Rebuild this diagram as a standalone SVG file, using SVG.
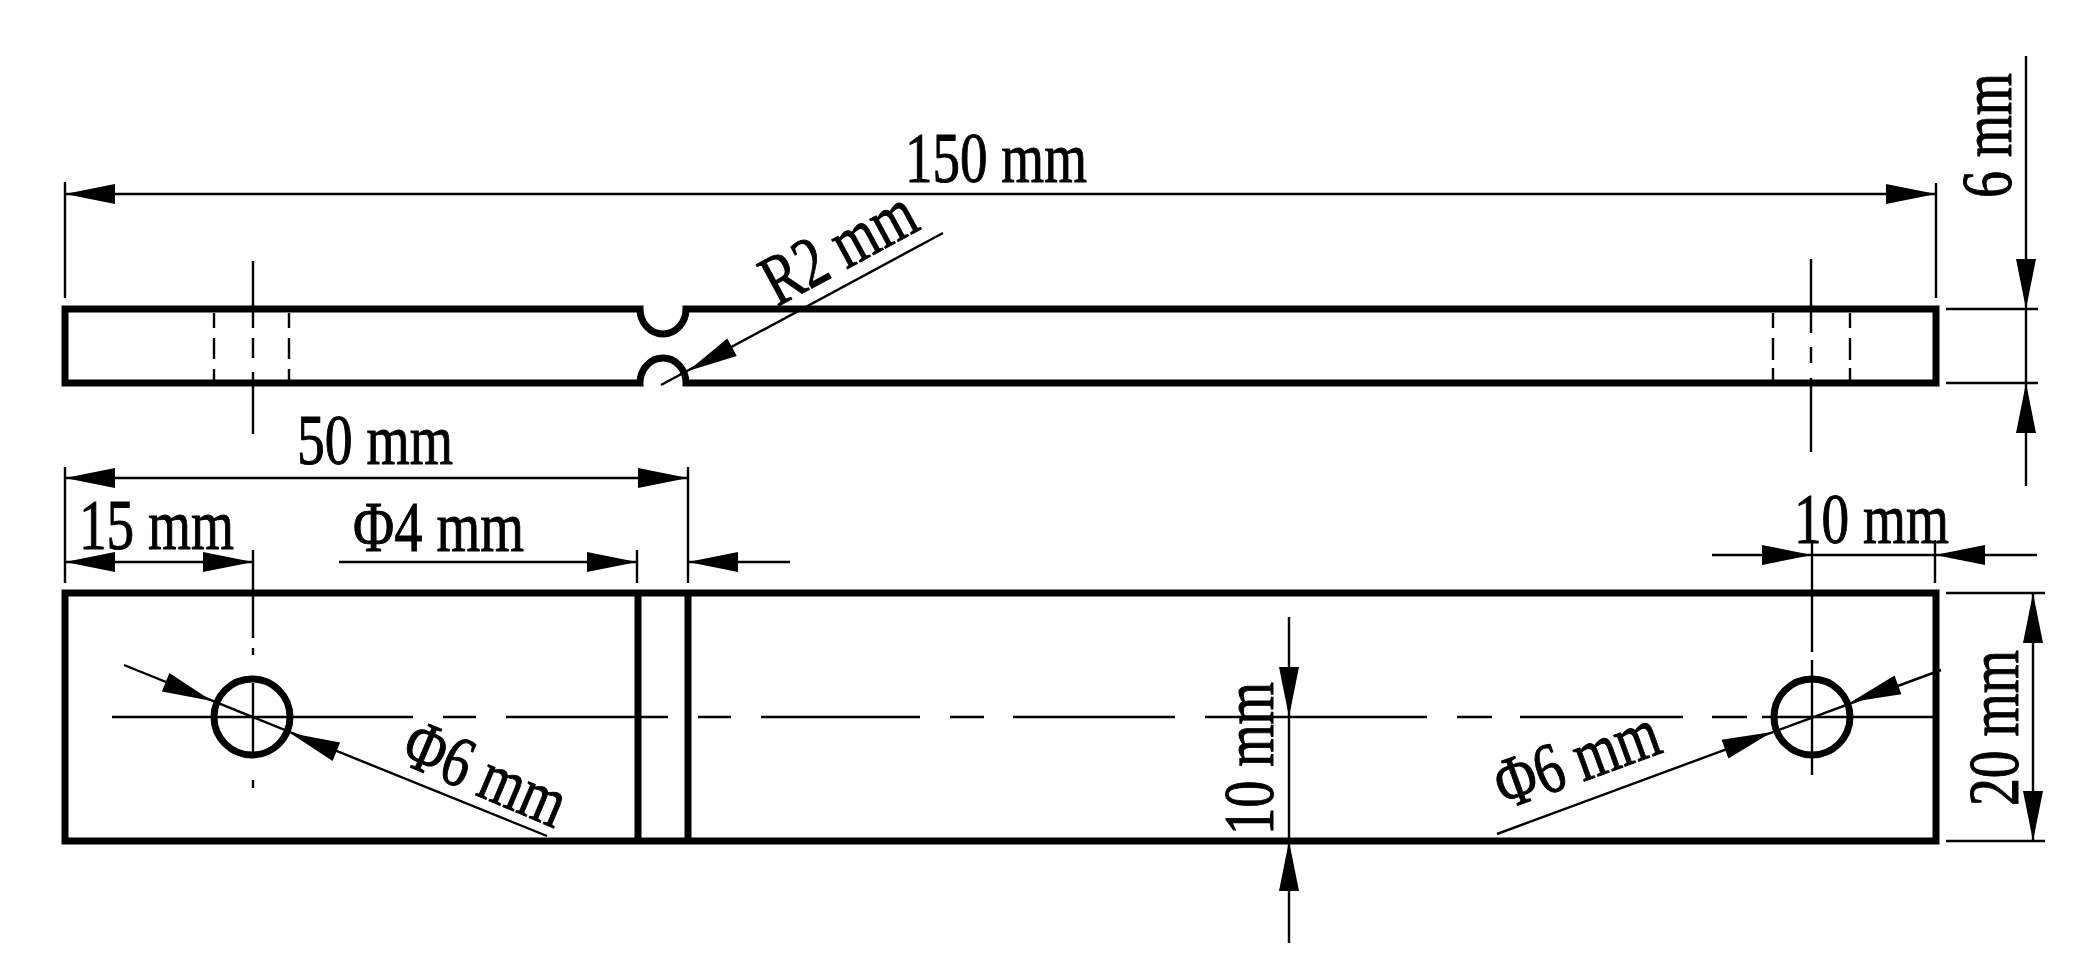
<svg xmlns="http://www.w3.org/2000/svg" width="2095" height="978" viewBox="0 0 2095 978">
<style>
.thick{fill:none;stroke:#000;stroke-width:7;stroke-linejoin:miter}
.thin{fill:none;stroke:#000;stroke-width:2.4}
.tx{font-family:"Liberation Serif","Times New Roman",serif;font-size:72px;fill:#000;stroke:#000;stroke-width:1}
</style>
<defs><polygon id="arrow" points="0,0 -50,-10 -50,10" fill="#000"/></defs>
<rect width="2095" height="978" fill="#fff"/>
<g id="part-top">
<path class="thick" d="M65,309H640A23,25 0 0 0 686,309H1936V383H686A23,25 0 0 0 640,383H65Z"/>
<path class="thin" d="M214,313V328M214,338V359M214,369V380M289,313V328M289,338V359M289,369V380M1773,313V328M1773,338V360M1773,368V380M1850,313V328M1850,338V360M1850,368V380"/>
<path class="thin" d="M253,261V328M253,338V358M253,372V434M1811,259V333M1811,347V363M1811,378V452"/>
</g>
<g id="part-bottom">
<rect class="thick" x="65" y="593" width="1871" height="248"/>
<path class="thick" d="M638,593V841M688,593V841"/>
<circle class="thick" cx="252" cy="717" r="38"/>
<circle class="thick" cx="1812" cy="717" r="38"/>
<path class="thin" d="M112,717H413M443,717H476M506,717H668M698,717H731M761,717H920M950,717H984M1013,717H1175M1205,717H1427M1457,717H1492M1520,717H1683M1712,717H1747M1762,717H1936"/>
<path class="thin" d="M253,550V638M253,648V655M253,683V757M253,780V788M1812,540V652M1812,660V775"/>
</g>
<g id="connectors">
<path class="thin" d="M65,182V298M1936,183V298M65,194H1936"/>
<path class="thin" d="M943,233L661,385"/>
<path class="thin" d="M65,467V583M688,467V583M65,478H688"/>
<path class="thin" d="M65,562H253M339,562H637M637,550V583M688,562H790"/>
<path class="thin" d="M1712,555H2037M1935,540V583"/>
<path class="thin" d="M124,665L547,836M1497,834L1941,670"/>
<path class="thin" d="M1289,617V943"/>
<path class="thin" d="M1946,593H2045M1946,841H2045M2033,593V841"/>
<path class="thin" d="M1946,309H2038M1946,383H2038M2026,56V486"/>
<use href="#arrow" transform="translate(65,194) rotate(180)"/>
<use href="#arrow" transform="translate(1936,194)"/>
<use href="#arrow" transform="translate(688,371) rotate(151.7)"/>
<use href="#arrow" transform="translate(65,478) rotate(180)"/>
<use href="#arrow" transform="translate(688,478)"/>
<use href="#arrow" transform="translate(65,562) rotate(180)"/>
<use href="#arrow" transform="translate(253,562)"/>
<use href="#arrow" transform="translate(637,562)"/>
<use href="#arrow" transform="translate(688,562) rotate(180)"/>
<use href="#arrow" transform="translate(1812,555)"/>
<use href="#arrow" transform="translate(1935,555) rotate(180)"/>
<use href="#arrow" transform="translate(212,701) rotate(22)"/>
<use href="#arrow" transform="translate(290,733) rotate(202)"/>
<use href="#arrow" transform="translate(1772,732) rotate(-20)"/>
<use href="#arrow" transform="translate(1851,702) rotate(160)"/>
<use href="#arrow" transform="translate(1289,717) rotate(90)"/>
<use href="#arrow" transform="translate(1289,841) rotate(-90)"/>
<use href="#arrow" transform="translate(2033,593) rotate(-90)"/>
<use href="#arrow" transform="translate(2033,841) rotate(90)"/>
<use href="#arrow" transform="translate(2026,309) rotate(90)"/>
<use href="#arrow" transform="translate(2026,383) rotate(-90)"/>
</g>
<g id="labels">
<text class="tx" x="905" y="182" textLength="182" lengthAdjust="spacingAndGlyphs">150 mm</text>
<text class="tx" x="297" y="464" textLength="156" lengthAdjust="spacingAndGlyphs">50 mm</text>
<text class="tx" x="79" y="549" textLength="155" lengthAdjust="spacingAndGlyphs">15 mm</text>
<text class="tx" x="353" y="551" textLength="171" lengthAdjust="spacingAndGlyphs">Φ4 mm</text>
<text class="tx" x="1794" y="543" textLength="155" lengthAdjust="spacingAndGlyphs">10 mm</text>
<text class="tx" transform="translate(777,307) rotate(-28.4)" textLength="165" lengthAdjust="spacingAndGlyphs">R2 mm</text>
<text class="tx" transform="translate(398,762) rotate(23)" textLength="170" lengthAdjust="spacingAndGlyphs">Φ6 mm</text>
<text class="tx" transform="translate(1505,810) rotate(-20)" textLength="170" lengthAdjust="spacingAndGlyphs">Φ6 mm</text>
<text class="tx" transform="translate(2011,198) rotate(-90)" textLength="125" lengthAdjust="spacingAndGlyphs">6 mm</text>
<text class="tx" transform="translate(1273,835) rotate(-90)" textLength="153" lengthAdjust="spacingAndGlyphs">10 mm</text>
<text class="tx" transform="translate(2018,806) rotate(-90)" textLength="156" lengthAdjust="spacingAndGlyphs">20 mm</text>
</g>
</svg>
